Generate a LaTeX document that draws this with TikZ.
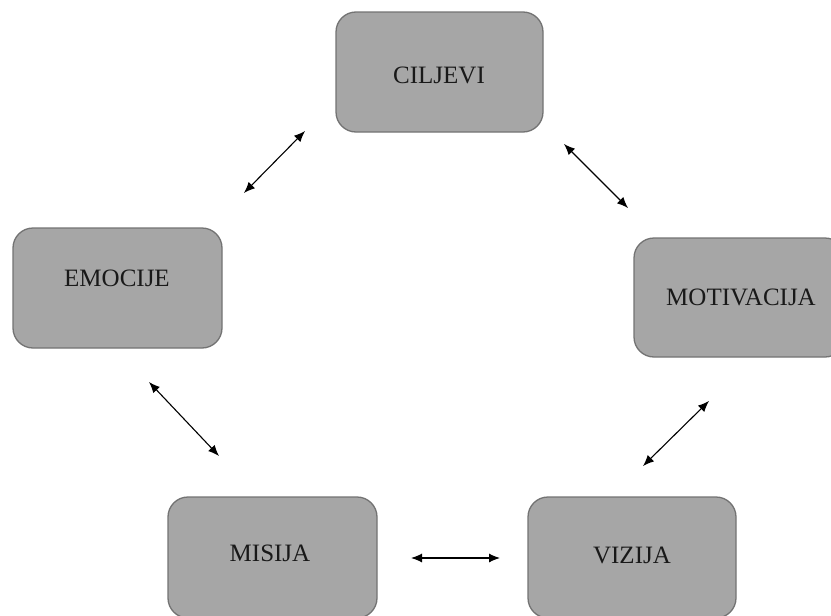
\documentclass[tikz,border=0pt]{standalone}
\usepackage{fontspec}
\setmainfont{Liberation Serif}
\usetikzlibrary{arrows.meta}
\begin{document}
\begin{tikzpicture}[x=1pt,y=-1pt,
  boxstyle/.style={draw=black!55,line width=1.3pt,fill=black!35,rounded corners=20pt},
  lbl/.style={font=\fontsize{25}{30}\selectfont,text=black!90},
  biarrow/.style={{Latex[length=11pt,width=9pt]}-{Latex[length=11pt,width=9pt]},line width=1.1pt}]
\useasboundingbox (0,0) rectangle (831,616);
\begin{scope}
\clip (0,0) rectangle (831,616);
\draw[boxstyle] (336,12) rectangle (543,132);
\draw[boxstyle] (13,228) rectangle (222,348);
\draw[boxstyle] (634,238) rectangle (845,357);
\draw[boxstyle] (168,497) rectangle (377,618);
\draw[boxstyle] (528,497) rectangle (736,618);
\end{scope}
\node[lbl] (cilj) at (439,75) {CILJEVI};
\node[lbl] (emo) at (117,278) {EMOCIJE};
\node[lbl] (mot) at (741,297) {MOTIVACIJA};
\node[lbl] (mis) at (270,553) {MISIJA};
\node[lbl] (viz) at (632,555) {VIZIJA};
\coordinate (a1) at (305,131); \coordinate (a2) at (244,193);
\coordinate (b1) at (564,144); \coordinate (b2) at (628,208);
\coordinate (c1) at (149,382); \coordinate (c2) at (219,456);
\coordinate (d1) at (709,401); \coordinate (d2) at (643,466);
\coordinate (e1) at (411,558); \coordinate (e2) at (500,558);
\draw[biarrow] (a1) -- (a2);
\draw[biarrow] (b1) -- (b2);
\draw[biarrow] (c1) -- (c2);
\draw[biarrow] (d1) -- (d2);
\draw[biarrow] (e1) -- (e2);
\end{tikzpicture}
\end{document}
